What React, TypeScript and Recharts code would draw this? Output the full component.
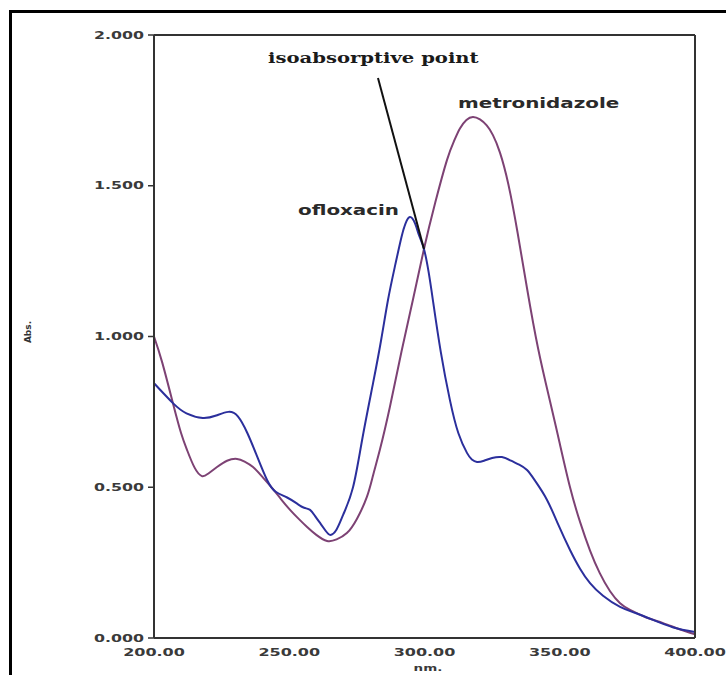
import React from "react";
import { LineChart, Line, XAxis, YAxis, ReferenceLine } from "recharts";

// wavelengths (nm) and absorbance
const ofloxacinNm = [
  200, 207, 212, 218, 223, 227.5, 231, 234.5, 238, 241.8, 245, 249.2, 253, 255.5, 257.7,
  259.5, 261.5, 263.5, 265.2, 267.5, 270, 273.6, 277, 281, 284, 286.5, 289, 291.5, 293,
  294.6, 296.5, 298, 299.8, 301.5, 303.1, 306, 309.4, 312.5, 315.7, 317.5, 319.4, 322, 325,
  328.6, 332, 335, 337.9, 341, 345.3, 349.5, 353.8, 357.5, 361.2, 366, 372.3, 378, 384.5,
  392, 400,
];
const ofloxacinAbs = [
  0.845, 0.779, 0.745, 0.73, 0.738, 0.75, 0.735, 0.68, 0.605, 0.524, 0.485, 0.466, 0.445,
  0.432, 0.425, 0.405, 0.38, 0.355, 0.342, 0.36, 0.41, 0.501, 0.66, 0.846, 0.99, 1.121, 1.23,
  1.33, 1.375, 1.396, 1.375, 1.335, 1.29, 1.215, 1.121, 0.95, 0.789, 0.68, 0.614, 0.592,
  0.584, 0.588, 0.597, 0.6, 0.588, 0.575, 0.557, 0.52, 0.458, 0.375, 0.292, 0.23, 0.182,
  0.14, 0.103, 0.083, 0.06, 0.035, 0.02,
];

const metronidazoleNm = [
  200, 203, 207, 210, 212.2, 215, 217.7, 220, 223.3, 227, 230.7, 233.5, 236.6, 240, 243.6,
  247, 250.3, 253.5, 256.6, 260, 264, 267.5, 271.3, 275, 278.7, 281, 283.5, 287.2, 291.5,
  295.7, 299.8, 304, 308.3, 311, 313.1, 315.5, 317.9, 320.5, 323, 325.3, 327.9, 331, 334.4,
  337.9, 342, 346.4, 350, 353.8, 357.5, 361.2, 364.8, 368.6, 372.3, 376, 382, 388, 394, 400,
];
const metronidazoleAbs = [
  1.0, 0.915, 0.779, 0.68, 0.624, 0.565, 0.537, 0.545, 0.567, 0.588, 0.594, 0.585, 0.567,
  0.535, 0.498, 0.46, 0.425, 0.395, 0.368, 0.342, 0.322, 0.327, 0.348, 0.395, 0.468, 0.54,
  0.624, 0.766, 0.95, 1.121, 1.29, 1.445, 1.585, 1.65, 1.69, 1.718, 1.728, 1.72, 1.7,
  1.668, 1.61, 1.505, 1.345, 1.16, 0.96, 0.785, 0.645, 0.5, 0.385, 0.29, 0.215, 0.155, 0.115,
  0.093, 0.068, 0.05, 0.03, 0.012,
];

const xTicks = [200, 250, 300, 350, 400];
const yTicks = [0, 0.5, 1, 1.5, 2];

const ofloxacin = ofloxacinNm.map((nm, i) => ({ nm, abs: ofloxacinAbs[i] }));
const metronidazole = metronidazoleNm.map((nm, i) => ({ nm, abs: metronidazoleAbs[i] }));

const tickFont = {
  fontFamily: "DejaVu Sans",
  fontWeight: 700,
  fontSize: 10,
  fill: "#3a3a3a",
};

function XTick({ x, y, payload }: any) {
  return (
    <g transform={`translate(${x},${y}) scale(1.6,1)`}>
      <text textAnchor="middle" dy="0.71em" {...tickFont}>
        {Number(payload.value).toFixed(2)}
      </text>
    </g>
  );
}

function YTick({ x, y, payload }: any) {
  return (
    <g transform={`translate(${x},${y}) scale(1.58,1)`}>
      <text textAnchor="end" dy="0.355em" {...tickFont}>
        {Number(payload.value).toFixed(3)}
      </text>
    </g>
  );
}

// frame axes only show their tick marks
function NoLabel() {
  return <g />;
}

const axisLine = { stroke: "#333", strokeWidth: 2 };
const tickLine = { stroke: "#333", strokeWidth: 1.5 };

export default function App() {
  return (
    <div
      style={{
        position: "absolute",
        left: 0,
        top: 0,
        width: 726,
        height: 675,
        overflow: "hidden",
        background: "#fff",
      }}
    >
      <div
        style={{
          position: "absolute",
          left: 9,
          top: 10,
          width: 760,
          height: 720,
          border: "3px solid #000",
        }}
      />
      <div style={{ position: "absolute", left: 0, top: 0 }}>
        <LineChart
          width={726}
          height={675}
          margin={{ top: 35, right: 31, bottom: 1, left: 74 }}
        >
          <XAxis
            xAxisId="bottom"
            dataKey="nm"
            type="number"
            domain={[200, 400]}
            ticks={xTicks}
            interval={0}
            height={36}
            axisLine={axisLine}
            tickLine={false}
            tickSize={6}
            tickMargin={5}
            tick={<XTick />}
          />
          <XAxis
            xAxisId="bottomTicks"
            mirror
            dataKey="nm"
            type="number"
            domain={[200, 400]}
            ticks={xTicks}
            interval={0}
            height={10}
            axisLine={false}
            tickLine={tickLine}
            tickSize={6}
            tick={<NoLabel />}
          />
          <XAxis
            xAxisId="top"
            orientation="top"
            mirror
            dataKey="nm"
            type="number"
            domain={[200, 400]}
            ticks={xTicks}
            interval={0}
            height={10}
            axisLine={axisLine}
            tickLine={tickLine}
            tickSize={6}
            tick={<NoLabel />}
          />
          <YAxis
            yAxisId="left"
            type="number"
            domain={[0, 2]}
            ticks={yTicks}
            interval={0}
            width={80}
            axisLine={axisLine}
            tickLine={tickLine}
            tickSize={6}
            tickMargin={4}
            tick={<YTick />}
          />
          <YAxis
            yAxisId="right"
            orientation="right"
            mirror
            type="number"
            domain={[0, 2]}
            ticks={yTicks}
            interval={0}
            width={10}
            axisLine={axisLine}
            tickLine={tickLine}
            tickSize={8}
            tick={<NoLabel />}
          />
          <Line
            xAxisId="bottom"
            yAxisId="left"
            data={metronidazole}
            dataKey="abs"
            type="natural"
            stroke="#7d4274"
            strokeWidth={2}
            dot={false}
            isAnimationActive={false}
          />
          <Line
            xAxisId="bottom"
            yAxisId="left"
            data={ofloxacin}
            dataKey="abs"
            type="natural"
            stroke="#2b2f9c"
            strokeWidth={2}
            dot={false}
            isAnimationActive={false}
          />
          <ReferenceLine
            xAxisId="bottom"
            yAxisId="left"
            segment={[
              { x: 282.8, y: 1.857 },
              { x: 299.8, y: 1.29 },
            ]}
            stroke="#111"
            strokeWidth={2}
          />
        </LineChart>
      </div>
      <svg
        width={726}
        height={675}
        style={{ position: "absolute", left: 0, top: 0, pointerEvents: "none" }}
      >
        <g transform="translate(268,63) scale(1.4,1)">
          <text fontFamily="DejaVu Serif" fontWeight={700} fontSize={14} fill="#1a1a1a">
            isoabsorptive point
          </text>
        </g>
        <g transform="translate(458,108) scale(1.42,1)">
          <text fontFamily="DejaVu Sans" fontWeight={700} fontSize={14} fill="#2a2a2a">
            metronidazole
          </text>
        </g>
        <g transform="translate(298,215) scale(1.42,1)">
          <text fontFamily="DejaVu Sans" fontWeight={700} fontSize={14} fill="#2a2a2a">
            ofloxacin
          </text>
        </g>
        <g transform="translate(428,671) scale(1.5,1)">
          <text textAnchor="middle" fontFamily="DejaVu Sans" fontWeight={700} fontSize={9} fill="#3a3a3a">
            nm.
          </text>
        </g>
        <g transform="translate(31,332) rotate(-90)">
          <text textAnchor="middle" fontFamily="DejaVu Sans" fontWeight={700} fontSize={9} fill="#333">
            Abs.
          </text>
        </g>
      </svg>
    </div>
  );
}
